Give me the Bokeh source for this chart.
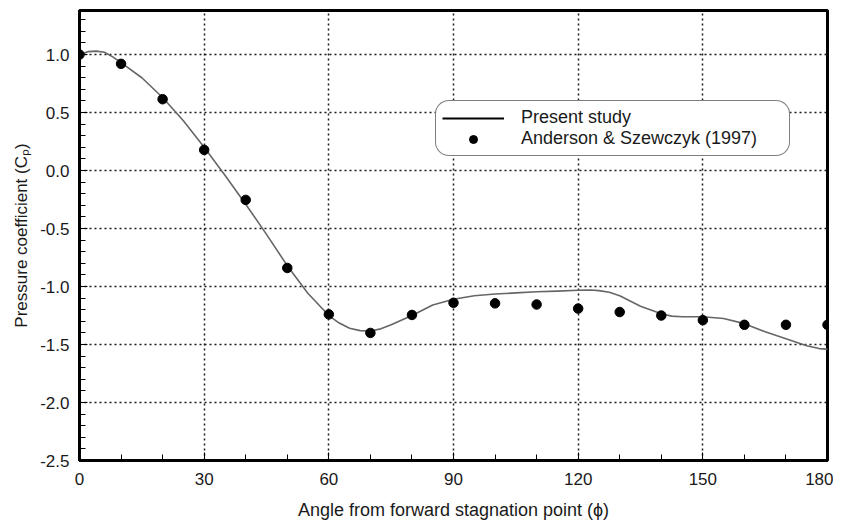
from bokeh.plotting import figure
from bokeh.models import FixedTicker, Legend, LegendItem, ColumnDataSource, Range1d
from bokeh.embed import file_html
from bokeh.resources import INLINE

# ---- data ----
theta_curve = [0, 2, 4, 6, 8, 10, 15, 20, 25, 30, 35, 40, 45, 50, 55, 60, 62.5, 65,
               67.5, 70, 72.5, 75, 80, 85, 90, 95, 100, 105, 110, 115, 120, 123,
               125, 127.5, 130, 135, 140, 142.5, 145, 150, 155, 160, 165, 170, 175,
               178, 180]
cp_curve = [1.00, 1.025, 1.03, 1.02, 0.98, 0.93, 0.80, 0.63, 0.43, 0.20, -0.04,
            -0.29, -0.55, -0.82, -1.06, -1.25, -1.315, -1.36, -1.38, -1.383, -1.365,
            -1.33, -1.25, -1.16, -1.11, -1.08, -1.065, -1.055, -1.045, -1.04, -1.032,
            -1.03, -1.035, -1.05, -1.08, -1.17, -1.235, -1.255, -1.26, -1.26, -1.275,
            -1.32, -1.39, -1.45, -1.51, -1.535, -1.54]

theta_exp = [0, 10, 20, 30, 40, 50, 60, 70, 80, 90, 100, 110, 120, 130, 140, 150,
             160, 170, 180]
cp_exp = [1.00, 0.92, 0.615, 0.178, -0.253, -0.84, -1.24, -1.40, -1.245, -1.14,
          -1.145, -1.155, -1.19, -1.22, -1.25, -1.29, -1.33, -1.33, -1.33]

x_ticks = [0, 30, 60, 90, 120, 150, 180]
x_tick_labels = ["0", "30", "60", "90", "120", "150", "180"]
y_ticks = [-2.5, -2.0, -1.5, -1.0, -0.5, 0.0, 0.5, 1.0]
y_tick_labels = ["-2.5", "-2.0", "-1.5", "-1.0", "-0.5", "0.0", "0.5", "1.0"]

label_curve = "Present study"
label_exp = "Anderson & Szewczyk (1997)"
x_title = "Angle from forward stagnation point (\u03d5)"
y_title = "Pressure coefficient (C\u209a)"

FONT = "Liberation Sans"

p = figure(width=833, height=528, output_backend="svg", toolbar_location=None,
           x_range=Range1d(0, 180), y_range=Range1d(-2.5, 1.38),
           min_border_left=79, min_border_right=6, min_border_top=10,
           min_border_bottom=68)
p.background_fill_color = "white"
p.border_fill_color = "white"
p.outline_line_color = "black"
p.outline_line_width = 3

# curve and points
src_c = ColumnDataSource(dict(x=theta_curve, y=cp_curve))
src_e = ColumnDataSource(dict(x=theta_exp, y=cp_exp))
p.line("x", "y", source=src_c, line_color="#666666", line_width=1.6,
       line_join="round")
r_pts = p.scatter("x", "y", source=src_e, marker="circle", size=9.5,
                  fill_color="black", line_color="black")
# legend proxy line (black, thicker like the reference legend); a single point draws nothing
r_leg_line = p.line(x=theta_curve[:1], y=cp_curve[:1], line_color="black", line_width=2)

# axes
p.xaxis.ticker = FixedTicker(ticks=x_ticks, minor_ticks=list(range(0, 181, 10)))
p.yaxis.ticker = FixedTicker(ticks=y_ticks,
                             minor_ticks=[round(-2.5 + 0.1 * i, 2) for i in range(39)])
p.xaxis.major_label_overrides = dict(zip(x_ticks, x_tick_labels))
p.yaxis.major_label_overrides = dict(zip(y_ticks, y_tick_labels))

for ax in (p.xaxis, p.yaxis):
    ax.axis_line_width = 3
    ax.axis_line_color = "black"
    ax.major_tick_in = 8
    ax.major_tick_out = 0
    ax.minor_tick_in = 6
    ax.minor_tick_out = 0
    ax.major_tick_line_color = "black"
    ax.minor_tick_line_color = "black"
    ax.major_label_text_font = FONT
    ax.major_label_text_font_size = "17px"
    ax.major_label_text_color = "#1a1a1a"
    ax.axis_label_text_font = FONT
    ax.axis_label_text_font_style = "normal"
    ax.axis_label_text_color = "#1a1a1a"

p.xaxis.axis_label = x_title
p.yaxis.axis_label = y_title
p.xaxis.axis_label_text_font_size = "18px"
p.yaxis.axis_label_text_font_size = "17px"
p.xaxis.major_label_standoff = 12
p.xaxis.axis_label_standoff = 12
p.yaxis.major_label_standoff = 10
p.yaxis.axis_label_standoff = 6

# grid
for g in (p.xgrid, p.ygrid):
    g.grid_line_color = "#1a1a1a"
    g.grid_line_width = 1.5
    g.grid_line_dash = "2 3"
p.xgrid.ticker = FixedTicker(ticks=x_ticks)
p.ygrid.ticker = FixedTicker(ticks=y_ticks)

# legend
legend = Legend(items=[LegendItem(label=label_curve, renderers=[r_leg_line]),
                       LegendItem(label=label_exp, renderers=[r_pts])],
                location=(356, 304), margin=0, padding=6, spacing=0,
                glyph_width=62, glyph_height=20, label_height=20,
                label_width=262, label_standoff=17,
                label_text_font=FONT, label_text_font_size="18px",
                label_text_color="#1a1a1a",
                border_line_color="black", border_line_width=1,
                background_fill_color="white", background_fill_alpha=1.0)
if "border_radius" in Legend.properties():
    legend.border_radius = 14
p.add_layout(legend, "center")

open("out.html", "w").write(file_html(p, INLINE))
